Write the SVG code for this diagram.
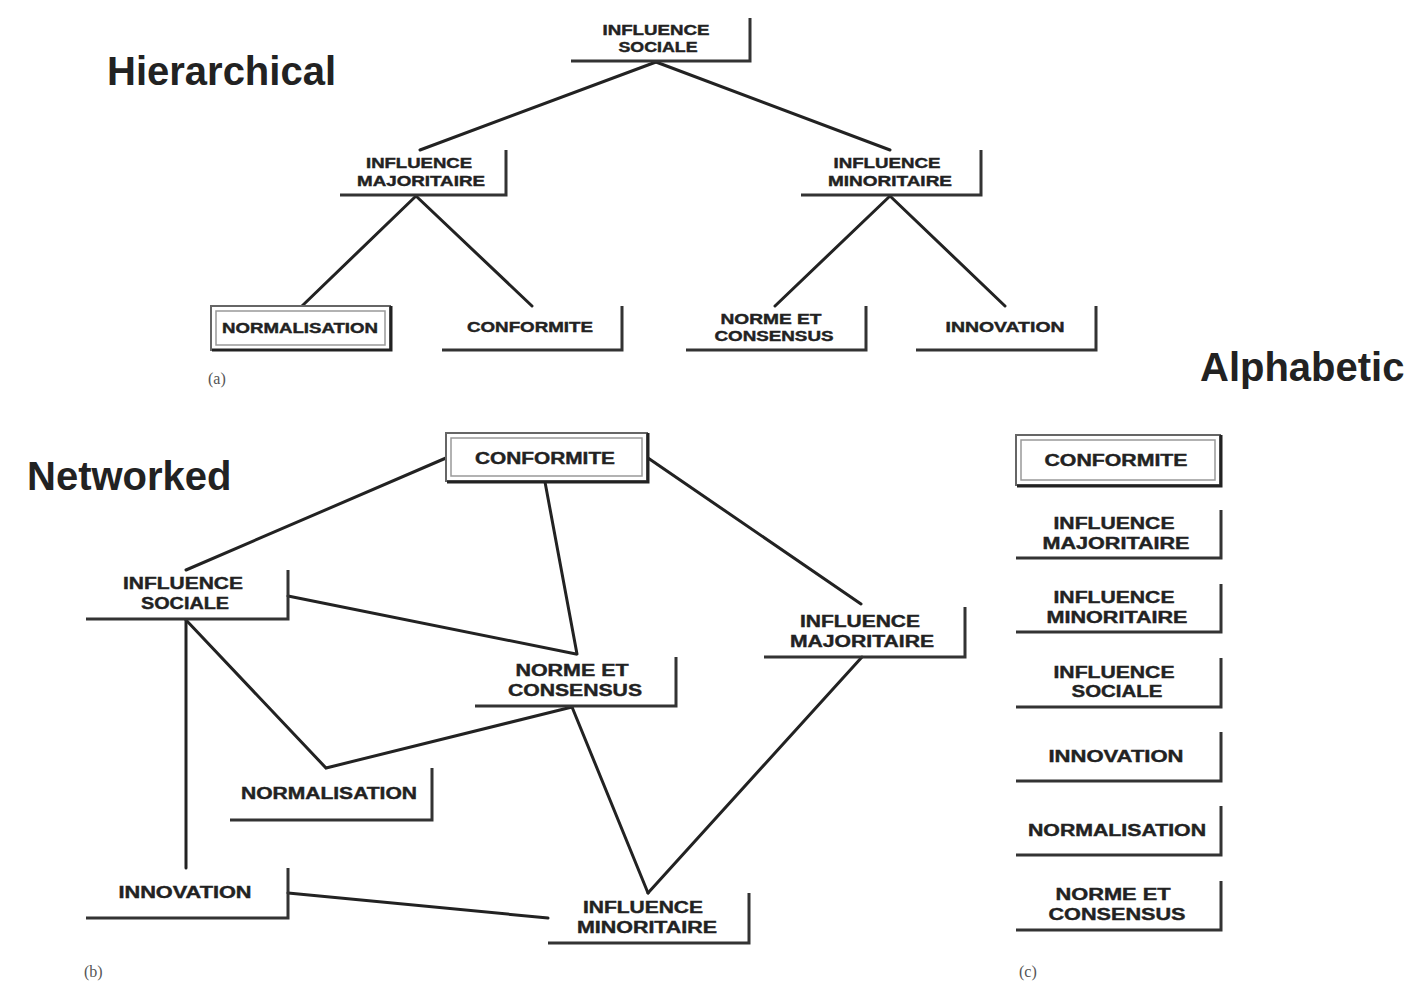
<svg xmlns="http://www.w3.org/2000/svg" width="1410" height="985" viewBox="0 0 1410 985">
<style>
.t{font-family:"Liberation Sans",Arial,sans-serif;font-weight:bold;fill:#222;stroke:#222;stroke-width:0.4;text-anchor:middle}
.h{font-size:14px}
.n{font-size:16px}
.title{font-family:"Liberation Sans",Arial,sans-serif;font-weight:bold;font-size:40px;fill:#222}
.lab{font-family:"Liberation Serif","Times New Roman",serif;font-size:16px;fill:#555}
.ln{stroke:#222;stroke-width:3;fill:none;stroke-linecap:round}
.lb{stroke:#333;stroke-width:3;fill:none}
.o{fill:#fff;stroke:#666;stroke-width:2}
.i{fill:none;stroke:#999;stroke-width:1.5}
.sh{stroke:#222;stroke-width:3;fill:none}
</style>
<rect width="1410" height="985" fill="#fff"/>
<text class="title" x="107" y="85">Hierarchical</text>
<text class="title" x="27" y="490">Networked</text>
<text class="title" x="1200" y="381">Alphabetic</text>
<text class="lab" x="208" y="384">(a)</text>
<text class="lab" x="84" y="977">(b)</text>
<text class="lab" x="1019" y="977">(c)</text>
<g id="connectors">
<line class="ln" x1="656" y1="62" x2="420" y2="150"/>
<line class="ln" x1="656" y1="62" x2="890" y2="150"/>
<line class="ln" x1="416" y1="196" x2="302" y2="306"/>
<line class="ln" x1="416" y1="196" x2="532" y2="306"/>
<line class="ln" x1="890" y1="196" x2="775" y2="306"/>
<line class="ln" x1="890" y1="196" x2="1005" y2="306"/>
<line class="ln" x1="446" y1="458" x2="186" y2="570"/>
<line class="ln" x1="545" y1="482" x2="577" y2="654"/>
<line class="ln" x1="648" y1="458" x2="861" y2="604"/>
<line class="ln" x1="288" y1="596" x2="576" y2="654"/>
<polyline class="ln" points="186,620 326,768 572,707"/>
<line class="ln" x1="186" y1="620" x2="186" y2="868"/>
<line class="ln" x1="572" y1="707" x2="648" y2="893"/>
<line class="ln" x1="862" y1="657" x2="648" y2="893"/>
<line class="ln" x1="288" y1="893" x2="548" y2="918"/>
</g>
<g id="h-influence-sociale"><path class="lb" d="M571 61H750V18"/><text class="t h" x="656" y="35" textLength="107" lengthAdjust="spacingAndGlyphs">INFLUENCE</text><text class="t h" x="658" y="52" textLength="79" lengthAdjust="spacingAndGlyphs">SOCIALE</text></g>
<g id="h-influence-majoritaire"><path class="lb" d="M340 195H506V150"/><text class="t h" x="419" y="168" textLength="106" lengthAdjust="spacingAndGlyphs">INFLUENCE</text><text class="t h" x="421" y="186" textLength="128" lengthAdjust="spacingAndGlyphs">MAJORITAIRE</text></g>
<g id="h-influence-minoritaire"><path class="lb" d="M801 195H981V150"/><text class="t h" x="887" y="168" textLength="107" lengthAdjust="spacingAndGlyphs">INFLUENCE</text><text class="t h" x="890" y="186" textLength="124" lengthAdjust="spacingAndGlyphs">MINORITAIRE</text></g>
<g id="h-normalisation"><rect class="o" x="211" y="306" width="179" height="44"/><rect class="i" x="216" y="311" width="169" height="34"/><path class="sh" d="M212 350H391V306"/><text class="t h" x="300" y="333" textLength="156" lengthAdjust="spacingAndGlyphs">NORMALISATION</text></g>
<g id="h-conformite"><path class="lb" d="M442 350H622V306"/><text class="t h" x="530" y="332" textLength="126" lengthAdjust="spacingAndGlyphs">CONFORMITE</text></g>
<g id="h-norme"><path class="lb" d="M686 350H866V306"/><text class="t h" x="771" y="324" textLength="101" lengthAdjust="spacingAndGlyphs">NORME ET</text><text class="t h" x="774" y="341" textLength="119" lengthAdjust="spacingAndGlyphs">CONSENSUS</text></g>
<g id="h-innovation"><path class="lb" d="M916 350H1096V306"/><text class="t h" x="1005" y="332" textLength="119" lengthAdjust="spacingAndGlyphs">INNOVATION</text></g>
<g id="n-conformite"><rect class="o" x="446" y="433" width="201" height="48"/><rect class="i" x="451" y="438" width="191" height="38"/><path class="sh" d="M447 482H648V433"/><text class="t n" x="545" y="464" textLength="140" lengthAdjust="spacingAndGlyphs">CONFORMITE</text></g>
<g id="n-influence-sociale"><path class="lb" d="M86 619H288V570"/><text class="t n" x="183" y="589" textLength="120" lengthAdjust="spacingAndGlyphs">INFLUENCE</text><text class="t n" x="185" y="609" textLength="88" lengthAdjust="spacingAndGlyphs">SOCIALE</text></g>
<g id="n-influence-majoritaire"><path class="lb" d="M764 657H965V607"/><text class="t n" x="860" y="627" textLength="120" lengthAdjust="spacingAndGlyphs">INFLUENCE</text><text class="t n" x="862" y="647" textLength="144" lengthAdjust="spacingAndGlyphs">MAJORITAIRE</text></g>
<g id="n-norme"><path class="lb" d="M475 706H676V657"/><text class="t n" x="572" y="676" textLength="113" lengthAdjust="spacingAndGlyphs">NORME ET</text><text class="t n" x="575" y="696" textLength="134" lengthAdjust="spacingAndGlyphs">CONSENSUS</text></g>
<g id="n-normalisation"><path class="lb" d="M230 820H432V768"/><text class="t n" x="329" y="799" textLength="176" lengthAdjust="spacingAndGlyphs">NORMALISATION</text></g>
<g id="n-innovation"><path class="lb" d="M86 918H288V868"/><text class="t n" x="185" y="898" textLength="133" lengthAdjust="spacingAndGlyphs">INNOVATION</text></g>
<g id="n-influence-minoritaire"><path class="lb" d="M548 943H749V893"/><text class="t n" x="643" y="913" textLength="120" lengthAdjust="spacingAndGlyphs">INFLUENCE</text><text class="t n" x="647" y="933" textLength="140" lengthAdjust="spacingAndGlyphs">MINORITAIRE</text></g>
<g id="a-conformite"><rect class="o" x="1016" y="435" width="204" height="50"/><rect class="i" x="1021" y="440" width="194" height="40"/><path class="sh" d="M1017 486H1221V435"/><text class="t n" x="1116" y="466" textLength="143" lengthAdjust="spacingAndGlyphs">CONFORMITE</text></g>
<g id="a-influence-majoritaire"><path class="lb" d="M1016 558H1221V510"/><text class="t n" x="1114" y="529" textLength="121" lengthAdjust="spacingAndGlyphs">INFLUENCE</text><text class="t n" x="1116" y="549" textLength="147" lengthAdjust="spacingAndGlyphs">MAJORITAIRE</text></g>
<g id="a-influence-minoritaire"><path class="lb" d="M1016 632H1221V584"/><text class="t n" x="1114" y="603" textLength="121" lengthAdjust="spacingAndGlyphs">INFLUENCE</text><text class="t n" x="1117" y="623" textLength="141" lengthAdjust="spacingAndGlyphs">MINORITAIRE</text></g>
<g id="a-influence-sociale"><path class="lb" d="M1016 707H1221V658"/><text class="t n" x="1114" y="678" textLength="121" lengthAdjust="spacingAndGlyphs">INFLUENCE</text><text class="t n" x="1117" y="697" textLength="91" lengthAdjust="spacingAndGlyphs">SOCIALE</text></g>
<g id="a-innovation"><path class="lb" d="M1016 781H1221V732"/><text class="t n" x="1116" y="762" textLength="135" lengthAdjust="spacingAndGlyphs">INNOVATION</text></g>
<g id="a-normalisation"><path class="lb" d="M1016 855H1221V806"/><text class="t n" x="1117" y="836" textLength="178" lengthAdjust="spacingAndGlyphs">NORMALISATION</text></g>
<g id="a-norme"><path class="lb" d="M1016 930H1221V881"/><text class="t n" x="1113" y="900" textLength="115" lengthAdjust="spacingAndGlyphs">NORME ET</text><text class="t n" x="1117" y="920" textLength="137" lengthAdjust="spacingAndGlyphs">CONSENSUS</text></g>
</svg>
